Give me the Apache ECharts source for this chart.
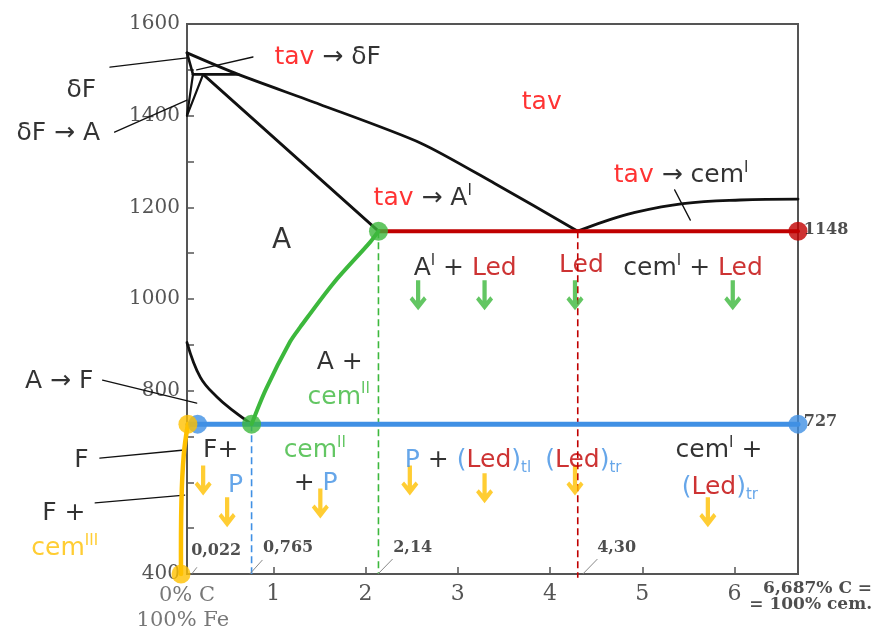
<!DOCTYPE html>
<html>
<head>
<meta charset="utf-8">
<script src="https://cdn.jsdelivr.net/npm/echarts@6/dist/echarts.min.js"></script>
<style>html,body{margin:0;padding:0;background:#fff}#c{width:875px;height:631px}</style>
</head>
<body>
<div id="c"></div>
<script>
// ---- data (wt% C, temperature °C) ----
const xTicks = [1, 2, 3, 4, 5, 6];
const yTickLabels = [400, 800, 1000, 1200, 1400, 1600];
const liquidus = [[0.065,1537],[0.62,1490],[1.5,1425],[2.6,1340],[3.4,1252],[4.3,1148]];
const solidus = [[0.24,1490],[2.14,1148]];
const peritectic = [[0.13,1490],[0.62,1490]];
const deltaAH = [[0.065,1537],[0.13,1490]];
const deltaHN = [[0.13,1490],[0.065,1400]];
const deltaJN = [[0.24,1490],[0.065,1400]];
const gsLine = [[0.065,905],[0.21,829],[0.39,786],[0.56,757],[0.765,727]];
const cdLine = [[4.3,1148],[4.6,1170],[4.9,1188],[5.44,1208],[6.06,1216],[6.687,1218]];
const esLine = [[0.765,727],[0.92,803],[1.18,906],[1.29,938],[1.65,1034],[2.05,1124],[2.14,1148]];
const eutecticLine = [[2.14,1148],[6.687,1148]];
const eutectoidLine = [[0.075,727],[6.687,727]];
const pqLine = [[0.075,727],[0.03,660],[0.005,560],[0,400]];
const dashBlue = [[0.765,727],[0.765,400]];
const dashGreen = [[2.14,1148],[2.14,400]];
const dashRed = [[4.30,1148],[4.30,392]];
const yellowDots = [[0.075,727],[0,400]];
const blueDots = [[0.18,727],[6.687,727]];
const greenDots = [[0.765,727],[2.14,1148]];
const redDots = [[6.687,1148]];
const greenArrows = [[2.57,1008],[3.29,1008],[4.27,1008],[5.98,1008]];
const yellowArrows = [[0.24,604],[0.50,535],[1.51,554],[2.48,604],[3.29,587],[4.27,604],[5.71,535]];
const leaders = [
  [-0.77,1506, 0.065,1526],
  [0.78,1528, 0.17,1500],
  [-0.72,1364, 0.065,1434],
  [-0.85,823, 0.17,773],
  [-0.88,653, 0.01,670],
  [-0.93,555, 0.04,572],
  [5.35,1238, 5.52,1172]
];
const valueLeaders = [
  [0.12,401, 0.17,414],
  [0.75,401, 0.88,430],
  [2.14,401, 2.29,432],
  [4.36,401, 4.51,432]
];
const phaseLabels = [
  [1.59,1526,'{r|tav}{k| → δF}'],
  [-1.08,1456,'{k|δF}'],
  [-1.33,1362,'{k|δF → A}'],
  [3.91,1428,'{r|tav}'],
  [2.62,1220,'{r|tav}{k| → A}{ks|I}'],
  [5.42,1270,'{r|tav}{k| → cem}{ks|I}'],
  [1.09,1128,'{kb|A}'],
  [3.08,1067,'{k|A}{ks|I}{k| + }{d|Led}'],
  [4.34,1074,'{d|Led}'],
  [5.55,1067,'{k|cem}{ks|I}{k| + }{d|Led}'],
  [1.72,862,'{k|A +}'],
  [1.71,786,'{g|cem}{gs|II}'],
  [-1.32,820,'{k|A → F}'],
  [-1.08,648,'{k|F}'],
  [0.43,670,'{k|F+}'],
  [0.59,593,'{b|P}'],
  [-1.27,532,'{k|F +}'],
  [-1.26,456,'{o|cem}{os|III}'],
  [1.45,670,'{g|cem}{gs|II}'],
  [1.46,598,'{k|+ }{b|P}'],
  [3.11,648,'{b|P}{k| + }{b|(}{d|Led}{b|)}{bsub|tl}'],
  [4.36,648,'{b|(}{d|Led}{b|)}{bsub|tr}'],
  [5.83,670,'{k|cem}{ks|I}{k| +}'],
  [5.84,589,'{b|(}{d|Led}{b|)}{bsub|tr}']
];
const valueLabels = [
  [6.75,1150,'1148'],
  [6.75,731,'727'],
  [0.11,451,'0,022'],
  [0.89,458,'0,765'],
  [2.30,458,'2,14'],
  [4.51,458,'4,30']
];
const axisTexts = [
  [0.065,353,'0% C'],
  [0.02,299,'100% Fe']
];
const cornerText = [[7.49,351,'6,687% C =\n= 100% cem.']];

// ---- chart ----
const SANS = 'DejaVu Sans', SERIF = 'DejaVu Serif';
const C = {red:'#ff0000', dred:'#c00000', blue:'#4090e4', green:'#3cb83c', gold:'#ffc000'};
const FS = 25, SUP = 15;
const rich = {
  k:{color:'#000', fontFamily:SANS, fontSize:FS, lineHeight:30},
  kb:{color:'#000', fontFamily:SANS, fontSize:28, lineHeight:30},
  r:{color:C.red, fontFamily:SANS, fontSize:FS, lineHeight:30},
  d:{color:C.dred, fontFamily:SANS, fontSize:FS, lineHeight:30},
  b:{color:C.blue, fontFamily:SANS, fontSize:FS, lineHeight:30},
  g:{color:C.green, fontFamily:SANS, fontSize:FS, lineHeight:30},
  o:{color:C.gold, fontFamily:SANS, fontSize:FS, lineHeight:30},
  ks:{color:'#000', fontFamily:SANS, fontSize:SUP, lineHeight:16, verticalAlign:'top'},
  gs:{color:C.green, fontFamily:SANS, fontSize:SUP, lineHeight:16, verticalAlign:'top'},
  os:{color:C.gold, fontFamily:SANS, fontSize:SUP, lineHeight:16, verticalAlign:'top'},
  bsub:{color:C.blue, fontFamily:SANS, fontSize:SUP, lineHeight:16, verticalAlign:'bottom'}
};
const arrowPath = 'path://M7.5 0 L12.5 0 L12.5 21 L16.8 16.5 L20 19.7 L10 31 L0 19.7 L3.2 16.5 L7.5 21 Z';

function line(data, color, width, opts) {
  return Object.assign({type:'line', data, symbol:'none', silent:true, clip:false,
    lineStyle:{color, width, cap:'round', join:'round'}, z:3}, opts || {});
}
function dots(data, color, z) {
  return {type:'scatter', data, symbolSize:19, itemStyle:{color}, silent:true, clip:false, z};
}
function textSeries(items, labelOpts, z) {
  return {type:'scatter', symbolSize:1, itemStyle:{color:'rgba(0,0,0,0)'}, silent:true, clip:false, z:z||20,
    data: items.map(it => ({value:[it[0], it[1]], label:{formatter:it[2]}})),
    label: Object.assign({show:true, position:'inside'}, labelOpts)};
}
function segSeries(segs, color, width, z) {
  return {type:'custom', coordinateSystem:'cartesian2d', silent:true, clip:false, z,
    dimensions:['x1','y1','x2','y2'], encode:{x:[0,2], y:[1,3]}, data:segs,
    renderItem:(params, api) => {
      const a = api.coord([api.value(0), api.value(1)]);
      const b = api.coord([api.value(2), api.value(3)]);
      return {type:'line', shape:{x1:a[0], y1:a[1], x2:b[0], y2:b[1]},
        style:{stroke:color, lineWidth:width, lineCap:'round'}};
    }};
}
function curveSeries(pts, color, width, smooth, z) {
  return {type:'custom', coordinateSystem:'cartesian2d', silent:true, clip:false, z,
    data:[pts[0]],
    renderItem:(params, api) => ({type:'polyline',
      shape:{points: pts.map(p => api.coord(p)), smooth},
      style:{stroke:color, lineWidth:width, fill:null, lineCap:'round', lineJoin:'round'}})};
}

const series = [
  line(dashBlue, C.blue, 1.6, {lineStyle:{color:C.blue, width:1.6, type:[7,4]}, z:1}),
  line(dashGreen, C.green, 1.6, {lineStyle:{color:C.green, width:1.6, type:[7,4]}, z:1}),
  line(dashRed, C.dred, 1.6, {lineStyle:{color:C.dred, width:1.6, type:[7,4]}, z:1}),
  line(liquidus, '#111', 2.8, {smooth:0.25}),
  line(solidus, '#111', 2.8),
  line(peritectic, '#111', 2.6),
  line(deltaAH, '#111', 2.6),
  line(deltaHN, '#111', 2.2),
  line(deltaJN, '#111', 2.2),
  line(gsLine, '#111', 2.8, {smooth:0.4}),
  line(cdLine, '#111', 2.8, {smooth:0.4}),
  line(eutecticLine, C.dred, 4, {z:4}),
  line(eutectoidLine, C.blue, 5, {z:4}),
  line(esLine, C.green, 4, {smooth:0.3, z:5}),
  curveSeries(pqLine, C.gold, 4.5, 0.4, 5),
  dots(blueDots, C.blue, 6),
  dots(redDots, C.dred, 6),
  dots(greenDots, C.green, 7),
  dots(yellowDots, C.gold, 8),
  {type:'scatter', data:greenArrows, symbol:arrowPath, symbolSize:[17,30], itemStyle:{color:C.green}, silent:true, z:9},
  {type:'scatter', data:yellowArrows, symbol:arrowPath, symbolSize:[17,30], itemStyle:{color:C.gold}, silent:true, z:9},
  segSeries(leaders, '#111', 1.3, 2),
  segSeries(valueLeaders, '#888', 1, 2)
];
series.push(textSeries(phaseLabels, {rich}));
series.push(textSeries(valueLabels, {align:'left', fontFamily:SERIF, fontWeight:'bold', fontSize:16, color:'#222'}));
series.push(textSeries(axisTexts, {fontFamily:SERIF, fontSize:21, color:'#555'}));
series.push(textSeries(cornerText, {align:'right', fontFamily:SERIF, fontWeight:'bold', fontSize:17, lineHeight:16, color:'#222'}));

const chart = echarts.init(document.getElementById('c'));
chart.setOption({
  animation:false,
  backgroundColor:'#fff',
  grid:{left:187, right:77, top:24, bottom:57, show:true, borderColor:'#555', borderWidth:2},
  xAxis:{type:'value', min:0.065, max:6.687,
    axisLine:{show:true, lineStyle:{color:'#555', width:2}},
    axisTick:{show:true, inside:true, length:7, customValues:xTicks, lineStyle:{color:'#555', width:1.5}},
    axisLabel:{show:true, customValues:xTicks, margin:9, fontFamily:SERIF, fontSize:22, color:'#555'},
    splitLine:{show:false}},
  yAxis:{type:'value', min:400, max:1600, interval:100,
    axisLine:{show:true, lineStyle:{color:'#555', width:2}},
    axisTick:{show:true, inside:true, length:7, lineStyle:{color:'#555', width:1.5}},
    axisLabel:{show:true, margin:7, fontFamily:SERIF, fontSize:20, color:'#555',
      formatter: v => yTickLabels.indexOf(v) >= 0 ? String(v) : ''},
    splitLine:{show:false}},
  series
});
</script>
</body>
</html>
